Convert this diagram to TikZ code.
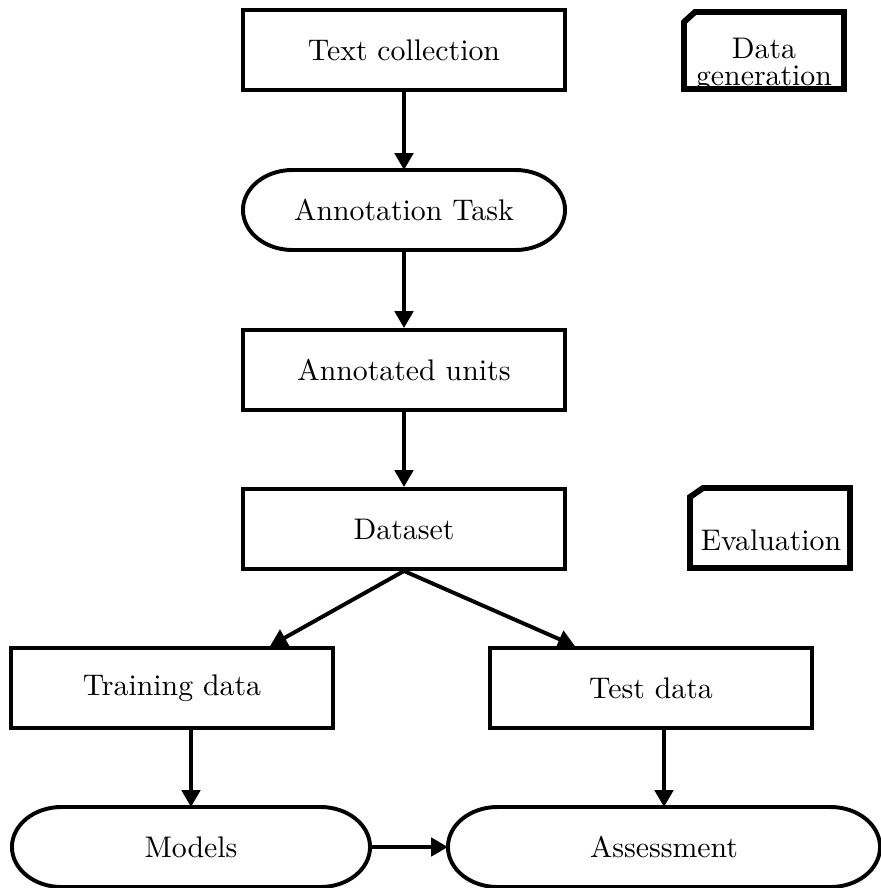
\documentclass[tikz,border=0pt]{standalone}
\usepackage{tikz}
\usetikzlibrary{arrows.meta}
\usetikzlibrary{positioning,shapes}

\tikzset{
    box/.style={draw, line width=1.4pt, minimum width=4.025cm, minimum height=1cm},
    term/.style={rectangle, minimum height=1cm, outer sep=0pt},
    cardline/.style={draw, line width=2.1pt, line join=miter},
    >={Triangle[length=6pt,width=6.5pt]}
}
% outline with half-ellipse ends round a term node
\newcommand{\termoutline}[1]{%
    \draw ([xshift=0.62cm]#1.north west) -- ([xshift=-0.62cm]#1.north east)
        arc[start angle=90, end angle=-90, x radius=0.62cm, y radius=0.5cm]
        -- ([xshift=0.62cm]#1.south west)
        arc[start angle=270, end angle=90, x radius=0.62cm, y radius=0.5cm] -- cycle;}

\begin{document}
\begin{tikzpicture}[x=0.0125cm, y=-0.0125cm, line width=1.4pt,
    font=\fontsize{10.6pt}{12.6pt}\selectfont]
    \useasboundingbox (0,0) rectangle (881,888);
            % main flow
            \node[box] (Txt) at (404,50) {Text collection};
            \node[term, minimum width=4.025cm] (Task) at (404,210) {Annotation Task};
            \node[box] (Units) at (404,370) {Annotated units};
            \node[box] (Data) at (404,529) {Dataset};
            \node[box] (Train) at (172,688) {Training data};
            \node[box] (Test) at (651,688) {Test data};
            \node[term, minimum width=4.475cm] (Models) at (191,847) {Models};
            \node[term, minimum width=5.4cm] (Assess) at (664,847) {Assessment};
            \termoutline{Task}
            \termoutline{Models}
            \termoutline{Assess}
            % side cards
            \path[cardline] (684,22) -- (695,12) -- (844,12) -- (844,89) -- (684,89) -- cycle;
            \node[align=center, inner sep=0pt] (Gen) at (764,65) {Data\\[-3pt]generation};
            \path[cardline] (690,497) -- (703,488) -- (850,488) -- (850,568) -- (690,568) -- cycle;
            \node[inner sep=0pt] (Eval) at (771,540) {Evaluation};
    	    \path[->] (Txt) edge (Task);
    	    \path[->] (Task) edge (Units);
    	    \path[->] (Units) edge (Data);
    	    \path[->] (Data.south) edge ([xshift=1.225cm]Train.north);
    	    \path[->] (Data.south) edge ([xshift=-0.95cm]Test.north);
    	    \path[->] (Models.north |- Train.south) edge (Models.north);
    	    \path[->] (Assess.north |- Test.south) edge (Assess.north);
    	    \path[->] (Models) edge (Assess);
\end{tikzpicture}
\end{document}
